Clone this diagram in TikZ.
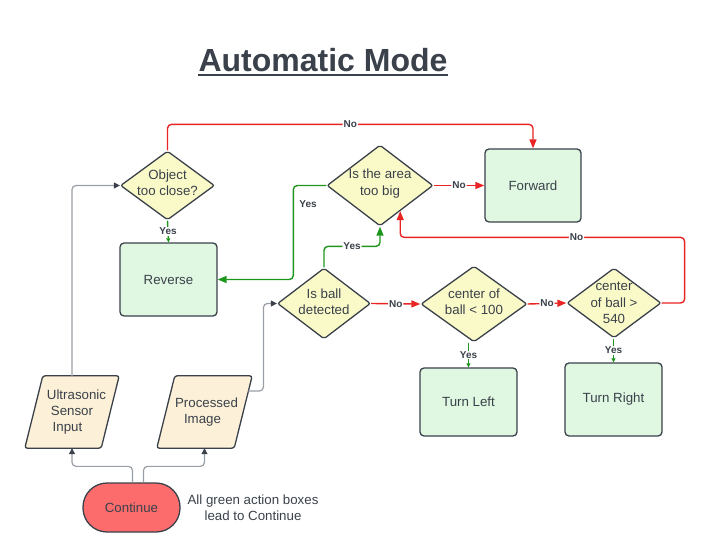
\documentclass[tikz,border=0pt]{standalone}
\usepackage{fontspec}
\setmainfont{Liberation Sans}
\usetikzlibrary{arrows.meta,calc,shapes.geometric}
\definecolor{ink}{HTML}{3A414A}
\definecolor{diafill}{HTML}{FAFAC8}
\definecolor{boxfill}{HTML}{E0F8E2}
\definecolor{parafill}{HTML}{FCF0D8}
\definecolor{contfill}{HTML}{FC6C6C}
\definecolor{lred}{HTML}{E82424}
\definecolor{lgreen}{HTML}{1E961E}
\definecolor{lgray}{HTML}{9A9EA5}
\begin{document}
\begin{tikzpicture}[x=1pt,y=-1pt,
  txt/.style={font=\fontsize{13.3}{16.3}\selectfont, text=ink, align=center, inner sep=0pt},
  dia/.style={diamond, draw=ink, line width=1.3pt, fill=diafill, inner sep=0pt, rounded corners=2pt},
  actbox/.style={rectangle, draw=ink, line width=1.3pt, fill=boxfill, rounded corners=4pt, inner sep=0pt},
  frame/.style={rectangle, inner sep=0pt},
  para/.style={draw=ink, line width=1.3pt, fill=parafill, rounded corners=2.5pt},
  term/.style={rectangle, draw=ink, line width=1.3pt, fill=contfill, rounded corners=24pt, inner sep=0pt},
  lbl/.style={font=\bfseries\fontsize{10}{12}\selectfont, text=ink, fill=white, inner sep=1pt},
  gryline/.style={draw=lgray, line width=1.2pt, rounded corners=4pt, -{Triangle[length=6pt,width=6pt,color=ink]}},
  redline/.style={draw=lred, line width=1.4pt, rounded corners=4pt, -{Triangle[length=9pt,width=7pt]}},
  grnline/.style={draw=lgreen, line width=1.4pt, rounded corners=4pt, -{Triangle[length=9pt,width=7pt]}},
  grnshort/.style={draw=lgreen, line width=1.4pt, -{Triangle[length=4pt,width=4pt]}}
]
\useasboundingbox (0,0) rectangle (709,556);

% title
\node[font=\bfseries\fontsize{32}{36}\selectfont, text=ink, inner sep=0pt, anchor=base] (title) at (323,72) {Automatic Mode};
\draw[ink, line width=2pt] ([yshift=-3.5pt]title.base west) -- ([yshift=-3.5pt]title.base east);

% decisions
\node[dia, minimum width=94pt, minimum height=69pt] (obj) at (167.5,185.5) {};
\node[txt, yshift=3pt] at (obj) {Object\\too close?};
\node[dia, minimum width=106pt, minimum height=81pt] (area) at (380,185.5) {};
\node[txt, yshift=2pt] at (area) {Is the area\\too big};
\node[dia, minimum width=93pt, minimum height=71pt] (ball) at (324,303.5) {};
\node[txt, yshift=2pt] at (ball) {Is ball\\detected};
\node[dia, minimum width=106pt, minimum height=76pt] (c100) at (474,304) {};
\node[txt, yshift=2pt] at (c100) {center of\\ball < 100};
\node[dia, minimum width=94pt, minimum height=70pt] (c540) at (614,303) {};
\node[txt] at (c540) {center\\of ball >\\540};

% actions
\node[actbox, minimum width=97pt, minimum height=73pt] (rev) at (168.5,279.5) {};
\node[txt] at (rev) {Reverse};
\node[actbox, minimum width=96pt, minimum height=73pt] (fwd) at (533,185.5) {};
\node[txt] at (fwd) {Forward};
\node[actbox, minimum width=97pt, minimum height=68pt] (tl) at (468.5,402) {};
\node[txt] at (tl) {Turn Left};
\node[actbox, minimum width=97pt, minimum height=73pt] (tr) at (613.5,399.5) {};
\node[txt] at (tr) {Turn Right};

% inputs
\node[frame, minimum width=94pt, minimum height=72pt] (us) at (72,412) {};
\draw[para] ([xshift=18pt]us.north west) -- (us.north east) -- ([xshift=-18pt]us.south east) -- (us.south west) -- cycle;
\node[txt] at (us) {\hspace*{9pt}Ultrasonic\\Sensor\\Input\hspace*{9pt}};
\node[frame, minimum width=95pt, minimum height=72pt] (pi) at (204.5,412) {};
\draw[para] ([xshift=18pt]pi.north west) -- (pi.north east) -- ([xshift=-18pt]pi.south east) -- (pi.south west) -- cycle;
\node[txt] at (pi) {\hspace*{4pt}Processed\\Image\hspace*{4pt}};

% terminal
\node[term, minimum width=97pt, minimum height=49pt] (cont) at (131.5,507.5) {};
\node[txt] at (cont) {Continue};
\node[txt] (note) at (253,508) {All green action boxes\\lead to Continue};

% gray connectors
\draw[gryline] ([xshift=1pt]cont.north) -- ++(0,-16) -| (us.south);
\draw[gryline] ([xshift=12pt]cont.north) -- ++(0,-16) -| (pi.south);
\draw[gryline] (us.north) |- (obj.west);
\coordinate (piout) at ($(pi.north east)!0.21!([xshift=-18pt]pi.south east)$);
\draw[gryline] (piout) -- ++(15,0) |- (ball.west);

% red connectors
\draw[redline] (obj.north) -- ++(0,-26) -| node[lbl, pos=0.25] {No} (fwd.north);
\draw[redline] (area.east) -- node[lbl] {No} (fwd.west);
\draw[redline] (ball.east) -- node[lbl] {No} (c100.west);
\draw[redline] (c100.east) -- node[lbl] {No} (c540.west);
\coordinate (ain) at ($(area.south)!0.377!(area.east)$);
\draw[redline] (c540.east) -- ++(23,0) |- node[lbl, pos=0.69] {No} ([yshift=-26.3pt]ain) -- (ain);

% green connectors
\draw[grnshort] (obj.south) -- node[lbl] {Yes} (rev.north);
\draw[grnline] (area.west) -- ++(-33,0) |- (rev.east);
\node[lbl, fill=none] (yesarea) at (308,204) {Yes};
\draw[grnline] (ball.north) -- ++(0,-21) -| node[lbl, pos=0.25] {Yes} (area.south);
\draw[grnshort] (tl.north |- c100.south) -- node[lbl] {Yes} (tl.north);
\draw[grnshort] (tr.north |- c540.south) -- node[lbl] {Yes} (tr.north);
\end{tikzpicture}
\end{document}
